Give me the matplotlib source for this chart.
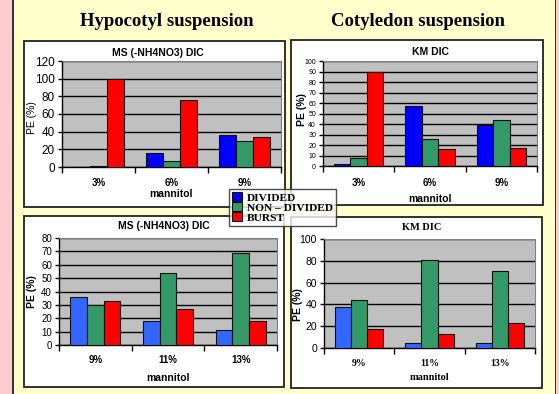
import matplotlib
matplotlib.use("Agg")
import matplotlib.pyplot as plt
from matplotlib.patches import Rectangle, Patch
import numpy as np

W, H = 559, 394

# ---- data ----
cats_top = ['3%', '6%', '9%']
cats_bot = ['9%', '11%', '13%']
series_names = ['DIVIDED', 'NON – DIVIDED', 'BURST']

hypo_top_divided = [0, 16, 36]
hypo_top_nondiv = [1, 7, 30]
hypo_top_burst = [100, 76, 34]

coty_top_divided = [2, 57, 39]
coty_top_nondiv = [8, 26, 44]
coty_top_burst = [90, 16, 17]

hypo_bot_divided = [36, 18, 11]
hypo_bot_nondiv = [30, 54, 69]
hypo_bot_burst = [33, 27, 18]

coty_bot_divided = [38, 5, 5]
coty_bot_nondiv = [44, 81, 71]
coty_bot_burst = [17, 13, 23]

top_ticks_hypo = [0, 20, 40, 60, 80, 100, 120]
top_ticks_coty = list(range(0, 101, 10))
bot_ticks_hypo = list(range(0, 81, 10))
bot_ticks_coty = [0, 20, 40, 60, 80, 100]

GREEN = '#339966'
RED = '#FF0000'
BLUE_TOP = '#0000FF'
BLUE_BOT = '#3366FF'
YELLOW = '#FFFFCC'
PINK = '#FFCCCC'

fig = plt.figure(figsize=(W / 100, H / 100), dpi=100)
fig.patch.set_facecolor(YELLOW)


def fx(x):
    return x / W


def fy(y):
    return 1 - y / H


def rect(x0, y0, x1, y1, fc, ec='none', lw=0.0, z=0):
    r = Rectangle((fx(x0), fy(y1)), (x1 - x0) / W, (y1 - y0) / H,
                  transform=fig.transFigure, facecolor=fc, edgecolor=ec,
                  linewidth=lw, zorder=z)
    fig.patches.append(r)


# side strips
rect(0, 0, 12, H, PINK)
rect(12, 0, 13.6, H, '#333333')
rect(555, 0, 556.4, H, '#333333')
rect(556.4, 0, W, H, PINK)

# headings
fig.text(fx(167), fy(21), 'Hypocotyl suspension', ha='center', va='center',
         family='Liberation Serif', weight='bold', fontsize=13.5)
fig.text(fx(418), fy(21), 'Cotyledon suspension', ha='center', va='center',
         family='Liberation Serif', weight='bold', fontsize=13.5)


def panel(box, plot, cats, vals, blue, ticks, ymax, title, title_xy,
          ylabel_xy, xtick_y, xlabel_y, serif=False, ylab_bold=True,
          tick_fs=7, ytick_fs=7, title_fs=7.5, xlabel_fs=7.5):
    bx0, by0, bx1, by1 = box
    rect(bx0, by0, bx1, by1, 'white', '#222222', 1.3, z=0.5)
    px0, py0, px1, py1 = plot
    ax = fig.add_axes([fx(px0), fy(py1), (px1 - px0) / W, (py1 - py0) / H])
    ax.set_zorder(2)
    ax.set_facecolor('#C0C0C0')
    x = np.arange(len(cats))
    w = 0.23
    colors = [blue, GREEN, RED]
    for j, v in enumerate(vals):
        ax.bar(x + (j - 1) * w, v, width=w, color=colors[j],
               edgecolor='#111111', linewidth=0.8, zorder=3)
    ax.set_xlim(-0.5, len(cats) - 0.5)
    ax.set_ylim(0, ymax)
    ax.set_yticks(ticks)
    ax.set_yticklabels([str(t) for t in ticks], fontsize=ytick_fs,
                       family='Liberation Sans')
    ax.yaxis.grid(True, color='black', linewidth=1.0, zorder=1)
    ax.set_axisbelow(True)
    ax.set_xticks(x)
    ax.set_xticklabels([])
    ax.set_xticks(np.arange(-0.5, len(cats)), minor=True)
    ax.tick_params(axis='x', which='major', length=0)
    ax.tick_params(axis='x', which='minor', length=4, width=1, color='black')
    ax.tick_params(axis='y', length=3, width=1, pad=2)
    for s in ['top', 'right']:
        ax.spines[s].set_color('#808080')
        ax.spines[s].set_linewidth(0.8)
    for s in ['left', 'bottom']:
        ax.spines[s].set_color('black')
        ax.spines[s].set_linewidth(1.0)
    fam = 'Liberation Serif' if serif else 'Liberation Sans'
    for i, c in enumerate(cats):
        xd = px0 + (i + 0.5) * (px1 - px0) / len(cats)
        fig.text(fx(xd), fy(xtick_y), c, ha='center', va='center',
                 fontsize=tick_fs, family=fam, weight='bold', zorder=3)
    fig.text(fx((px0 + px1) / 2), fy(xlabel_y), 'mannitol', ha='center',
             va='center', fontsize=xlabel_fs, family=fam, weight='bold',
             zorder=3)
    fig.text(fx(title_xy[0]), fy(title_xy[1]), title, ha='center',
             va='center', fontsize=title_fs, family=fam, weight='bold',
             zorder=3)
    fig.text(fx(ylabel_xy[0]), fy(ylabel_xy[1]), 'PE (%)', ha='center',
             va='center', rotation=90, fontsize=7.5, family='Liberation Sans',
             weight='bold' if ylab_bold else 'normal', zorder=3)
    return ax


panel((24, 41, 285, 207), (62, 61, 281, 167), cats_top,
      [hypo_top_divided, hypo_top_nondiv, hypo_top_burst], BLUE_TOP,
      top_ticks_hypo, 120, 'MS (-NH4NO3) DIC', (158, 53), (32, 118),
      183, 194, ylab_bold=False, ytick_fs=8.5)

panel((291, 40, 543, 205), (323, 61, 537, 166), cats_top,
      [coty_top_divided, coty_top_nondiv, coty_top_burst], BLUE_TOP,
      top_ticks_coty, 100, 'KM DIC', (430, 52), (302, 110),
      183, 199, ytick_fs=5)

panel((24, 216, 284, 387), (59, 238, 277, 345), cats_bot,
      [hypo_bot_divided, hypo_bot_nondiv, hypo_bot_burst], BLUE_BOT,
      bot_ticks_hypo, 80, 'MS (-NH4NO3) DIC', (164, 226), (32, 292),
      360, 378, ytick_fs=7)

panel((291, 217, 542, 388), (324, 239, 535, 348), cats_bot,
      [coty_bot_divided, coty_bot_nondiv, coty_bot_burst], BLUE_BOT,
      bot_ticks_coty, 100, 'KM DIC', (422, 228), (298, 305),
      363, 378, serif=True, ytick_fs=7.5)

# legend
handles = [Patch(facecolor=c, edgecolor='#111111', linewidth=0.8)
           for c in [BLUE_TOP, GREEN, RED]]
leg = fig.legend(handles, series_names, loc='upper left',
                 bbox_to_anchor=(fx(229), fy(189)), frameon=True,
                 prop={'family': 'Liberation Serif', 'weight': 'bold',
                       'size': 8.2},
                 handlelength=0.9, handleheight=0.9, handletextpad=0.4,
                 labelspacing=-0.05, borderpad=0.25, borderaxespad=0,
                 fancybox=False)
leg.get_frame().set_edgecolor('#222222')
leg.get_frame().set_linewidth(1.0)
leg.set_zorder(10)

fig.savefig('out.png', dpi=100, facecolor=fig.get_facecolor())
